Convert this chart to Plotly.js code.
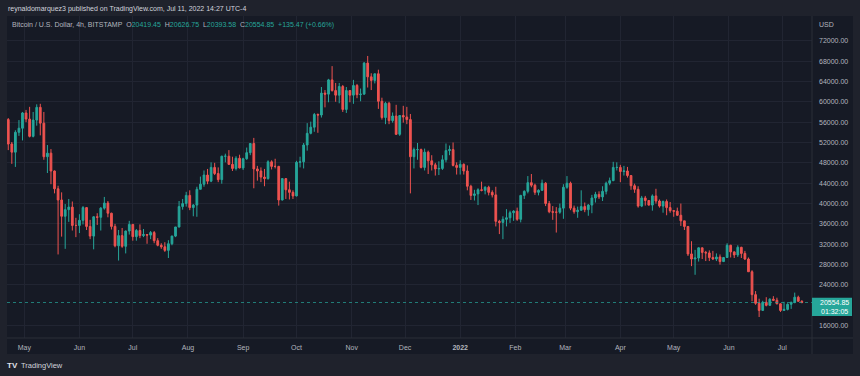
<!DOCTYPE html>
<html><head><meta charset="utf-8">
<script src="https://cdn.plot.ly/plotly-3.0.1.min.js"></script>
<style>html,body{margin:0;padding:0;background:#1f222c;} #chart{width:860px;height:376px;}</style>
</head><body><div id="chart"></div>
<script>
// Bitcoin / USD, candles (values in thousands of USD), two-day candles
const firstCandleStart = '2021-04-21';
const candleDays = 2;
const firstOpenK = 56.5;
const closesK = [
51.7,50.1,54.0,54.8,57.8,56.6,53.2,56.4,58.9,55.8,
49.2,49.9,46.4,42.9,40.7,37.5,38.8,39.3,35.7,35.7,
36.7,39.2,35.5,33.6,37.4,37.3,39.1,40.1,38.1,35.5,
31.7,33.7,31.6,34.6,35.9,33.5,34.7,33.7,33.9,33.8,
34.3,32.7,31.8,31.5,30.8,32.1,33.6,35.4,39.4,40.0,
41.6,39.2,39.7,42.8,43.8,45.6,44.4,47.1,45.9,44.7,
49.3,49.3,47.7,46.9,48.9,47.0,48.8,50.0,51.8,46.8,
46.4,45.2,44.9,48.2,47.3,47.3,40.7,44.9,42.7,42.2,
41.5,48.1,48.2,51.5,53.8,55.0,57.5,57.4,61.7,61.5,
64.3,62.2,61.3,63.0,58.5,62.2,61.3,63.2,61.4,61.5,
67.6,64.9,64.2,65.5,60.1,56.9,59.7,56.3,57.2,53.6,
57.3,57.0,56.5,49.2,50.6,50.6,47.1,50.1,48.4,47.6,
46.8,46.9,48.6,50.4,50.6,47.5,47.1,47.7,46.4,43.4,
41.6,41.9,42.7,42.6,43.2,42.2,41.7,36.5,36.3,36.9,
37.2,38.2,38.5,36.9,41.6,42.4,44.1,43.6,42.2,42.6,
44.0,40.0,38.4,38.3,38.3,39.1,43.2,44.0,39.1,38.4,
38.7,39.4,38.8,39.7,41.1,41.8,41.3,42.4,44.0,44.5,
47.1,47.1,46.3,46.4,45.5,43.5,42.8,39.5,41.1,40.6,
39.7,41.5,40.5,39.5,40.4,39.2,38.6,38.5,37.7,36.6,
35.5,30.1,29.1,29.3,31.3,30.4,30.3,29.4,29.1,29.5,
28.6,29.4,31.8,30.5,29.9,31.4,30.2,29.1,26.6,22.1,
20.4,19.0,20.6,20.0,21.2,21.0,20.3,19.0,19.2,20.2,
20.6,21.6,20.8,20.55485];
const highsK = [
56.8,52.1,54.4,56.4,58.0,58.4,59.0,58.0,59.5,59.6,
58.0,51.5,50.7,46.5,43.5,42.2,39.9,40.9,40.4,37.2,
37.9,39.5,39.3,36.8,37.5,38.1,39.3,41.3,40.5,38.2,
36.0,34.8,35.2,34.7,36.6,36.0,35.0,35.9,35.0,34.0,
34.6,34.6,33.2,32.2,32.4,32.8,33.7,35.4,40.5,40.9,
42.3,42.6,39.9,43.3,45.3,46.5,46.8,48.1,48.0,47.1,
49.4,49.8,50.5,49.2,49.3,49.6,49.0,51.0,51.9,52.9,
47.4,47.1,46.8,48.5,48.5,48.8,47.4,45.0,45.0,44.3,
42.6,48.4,49.2,51.9,55.8,56.1,57.8,57.7,62.9,62.3,
64.5,67.0,63.7,63.7,63.3,62.9,62.3,64.3,63.5,62.6,
67.8,69.0,65.6,65.5,66.3,60.8,60.0,60.0,57.9,59.4,
57.4,59.2,59.0,57.6,51.0,51.9,50.8,50.8,50.4,49.5,
48.0,48.3,49.5,51.8,51.4,52.0,48.1,48.5,47.9,47.5,
43.7,42.7,43.0,44.3,43.4,43.5,42.6,43.3,36.8,37.5,
38.9,38.6,38.7,39.2,41.7,42.6,45.4,45.8,43.9,42.8,
44.7,44.2,40.5,39.5,39.3,40.0,43.8,45.4,44.3,39.6,
39.4,42.6,40.2,39.9,41.7,42.3,42.4,43.4,44.3,45.1,
48.2,48.1,47.6,47.4,47.2,45.6,43.9,43.4,41.5,41.5,
40.7,41.8,42.9,40.8,40.6,40.8,40.3,38.7,39.2,40.0,
36.6,35.5,32.6,30.9,31.4,31.3,30.7,30.8,30.7,30.2,
30.0,29.5,32.2,31.9,30.6,31.8,31.5,30.7,29.4,26.9,
22.8,21.3,20.9,21.6,21.4,21.8,21.5,20.4,20.7,20.4,
20.7,22.5,21.9,21.0];
const lowsK = [
50.5,47.8,47.2,53.3,52.4,56.0,53.0,53.0,55.3,53.4,
48.6,46.0,43.8,42.0,30.0,33.5,31.1,36.4,34.7,33.4,
34.2,35.9,34.8,33.0,31.0,35.8,34.7,38.8,37.3,34.9,
31.4,28.8,31.3,30.2,33.9,32.7,32.7,33.2,33.4,32.1,
33.0,32.2,31.6,31.1,30.5,29.3,31.8,33.4,35.3,38.8,
39.4,38.7,37.5,37.4,42.8,43.3,43.8,44.2,45.6,44.2,
43.9,48.1,47.6,46.4,46.5,46.9,46.6,48.6,49.5,43.0,
44.5,44.2,43.4,44.7,46.7,46.9,39.6,40.6,40.9,40.8,
40.9,41.4,47.1,46.9,50.4,53.6,54.1,53.9,56.9,58.9,
59.9,62.0,60.0,59.7,58.0,57.8,59.9,59.6,60.7,60.1,
61.4,62.8,62.3,63.6,58.6,56.5,55.6,55.6,55.9,53.5,
53.3,55.9,55.6,42.0,46.9,48.6,46.9,46.5,45.8,46.5,
45.5,45.6,46.6,48.1,49.5,47.3,45.7,45.7,45.7,42.6,
40.7,40.6,39.7,42.4,41.8,41.6,41.2,35.5,34.0,33.0,
35.5,36.2,36.6,36.6,36.3,40.9,42.0,43.2,41.7,41.6,
42.5,39.5,38.1,36.8,34.3,38.0,37.0,42.9,38.7,38.0,
37.2,38.6,38.3,37.6,38.1,40.2,40.9,40.5,41.8,43.6,
44.4,46.5,44.2,45.5,45.1,42.7,42.1,39.2,39.3,39.6,
39.6,38.6,40.0,39.2,38.2,37.7,38.2,37.4,37.6,35.6,
34.8,29.7,27.7,26.0,28.6,29.1,28.7,28.7,28.9,28.7,
28.0,28.5,29.3,29.4,29.3,29.5,29.3,28.9,26.6,20.8,
20.1,17.7,18.9,19.8,19.9,20.9,20.2,18.7,18.9,19.0,
19.3,20.4,20.7,20.4];

const priceTicks = [16000,24000,28000,32000,36000,40000,44000,48000,52000,56000,60000,64000,68000,72000];
const monthTicks = ['2021-05-01','2021-06-01','2021-07-01','2021-08-01','2021-09-01','2021-10-01','2021-11-01','2021-12-01','2022-01-01','2022-02-01','2022-03-01','2022-04-01','2022-05-01','2022-06-01','2022-07-01'];
const monthLabels = ['May','Jun','Jul','Aug','Sep','Oct','Nov','Dec','<b>2022</b>','Feb','Mar','Apr','May','Jun','Jul'];
const xRange = ['2021-04-21 07:00','2022-07-17 17:00'];
const yRange = [13580, 76853];
const lastPrice = 20554.85;
const countdown = '01:32:05';
const lastBar = {o:'20419.45', h:'20626.75', l:'20393.58', c:'20554.85', chg:'+135.47 (+0.66%)'};

const UNIT = 1000;
const closes = closesK.map(v => v * UNIT);
const highs = highsK.map(v => v * UNIT);
const lows = lowsK.map(v => v * UNIT);
const opens = [firstOpenK * UNIT].concat(closes.slice(0, -1));
const t0 = Date.parse(firstCandleStart + 'T00:00:00Z');
const dates = closes.map((_, i) => new Date(t0 + (i * candleDays + candleDays / 2) * 86400000).toISOString().slice(0, 16).replace('T', ' '));

const UP = '#26a69a', DOWN = '#ef5350';
const trace = {
  type: 'candlestick', x: dates, open: opens, high: highs, low: lows, close: closes,
  increasing: {line: {color: UP, width: 1}, fillcolor: UP},
  decreasing: {line: {color: DOWN, width: 1}, fillcolor: DOWN},
  hoverinfo: 'skip', showlegend: false
};

const FONT = '"Liberation Sans", Arial, sans-serif';
const TXT = '#b2b5be';
const W = 805, H = 322; // plot area px
const px = x => (x - 7) / W;
const py = y => (338 - y) / H;
const teal = s => '<span style="color:' + UP + '">' + s + '</span>';

const layout = {
  width: 860, height: 376,
  margin: {l: 7, r: 48, t: 16, b: 38, pad: 0},
  paper_bgcolor: '#1f222c', plot_bgcolor: '#161a25',
  showlegend: false,
  font: {family: FONT, size: 7, color: TXT},
  xaxis: {
    type: 'date', range: xRange, rangeslider: {visible: false},
    tickmode: 'array', tickvals: monthTicks, ticktext: monthLabels,
    tickfont: {family: FONT, size: 7, color: TXT},
    showgrid: true, gridcolor: '#212532', gridwidth: 1,
    zeroline: false, showline: false, ticks: '', ticklabelstandoff: 4, fixedrange: true
  },
  yaxis: {
    side: 'right', range: yRange, tickmode: 'array', tickvals: priceTicks, tickformat: '.2f',
    tickfont: {family: FONT, size: 7, color: TXT},
    showgrid: true, gridcolor: '#212532', gridwidth: 1,
    zeroline: false, showline: false, ticks: '', ticklabelstandoff: 6, fixedrange: true
  },
  shapes: [
    {type: 'rect', xref: 'paper', yref: 'paper', x0: 0, x1: px(853), y0: py(354), y1: 1, fillcolor: '#161a25', line: {width: 0}, layer: 'below'},
    {type: 'line', xref: 'paper', yref: 'paper', x0: 1, x1: 1, y0: py(354), y1: 1, line: {color: '#2a2e39', width: 1}},
    {type: 'line', xref: 'paper', yref: 'paper', x0: 0, x1: px(853), y0: 0, y1: 0, line: {color: '#2a2e39', width: 1}},
    {type: 'line', xref: 'paper', yref: 'y', x0: 0, x1: 1, y0: lastPrice, y1: lastPrice, line: {color: UP, width: 1, dash: 'dot'}, opacity: 0.7},
    {type: 'rect', xref: 'paper', yref: 'y', ysizemode: 'pixel', yanchor: lastPrice, x0: 1, x1: px(852), y0: -13.5, y1: 4.8, fillcolor: UP, line: {width: 0}}
  ],
  annotations: [
    {xref: 'paper', yref: 'paper', x: px(5.5), y: py(9.3), xanchor: 'left', yanchor: 'middle', showarrow: false,
     text: 'reynaldomarquez3 published on TradingView.com, Jul 11, 2022 14:27 UTC-4', font: {family: FONT, size: 7, color: '#d1d4dc'}},
    {xref: 'paper', yref: 'paper', x: px(10), y: py(25.3), xanchor: 'left', yanchor: 'middle', showarrow: false,
     text: 'Bitcoin / U.S. Dollar, 4h, BITSTAMP&nbsp;&nbsp;O' + teal(lastBar.o) + '&nbsp;&nbsp;H' + teal(lastBar.h) + '&nbsp;&nbsp;L' + teal(lastBar.l) + '&nbsp;&nbsp;C' + teal(lastBar.c) + '&nbsp;&nbsp;' + teal(lastBar.chg),
     font: {family: FONT, size: 7, color: TXT}},
    {xref: 'paper', yref: 'paper', x: px(817), y: py(24), xanchor: 'left', yanchor: 'middle', showarrow: false,
     text: 'USD', font: {family: FONT, size: 7, color: TXT}},
    {xref: 'paper', yref: 'y', x: px(818), y: lastPrice, xanchor: 'left', yanchor: 'middle', showarrow: false,
     text: lastPrice.toFixed(2), font: {family: FONT, size: 7, color: '#ffffff'}},
    {xref: 'paper', yref: 'y', x: px(819), y: lastPrice, yshift: -9.4, xanchor: 'left', yanchor: 'middle', showarrow: false,
     text: countdown, font: {family: FONT, size: 7, color: '#ffffff'}},
    {xref: 'paper', yref: 'paper', x: px(5), y: py(365.7), xanchor: 'left', yanchor: 'middle', showarrow: false,
     text: '<b>TV</b>', font: {family: FONT, size: 8, color: '#e0e3eb'}},
    {xref: 'paper', yref: 'paper', x: px(19), y: py(365.7), xanchor: 'left', yanchor: 'middle', showarrow: false,
     text: 'TradingView', font: {family: FONT, size: 7.5, color: '#d1d4dc'}}
  ]
};

Plotly.newPlot('chart', [trace], layout, {staticPlot: true, displayModeBar: false});
</script>
</body></html>
